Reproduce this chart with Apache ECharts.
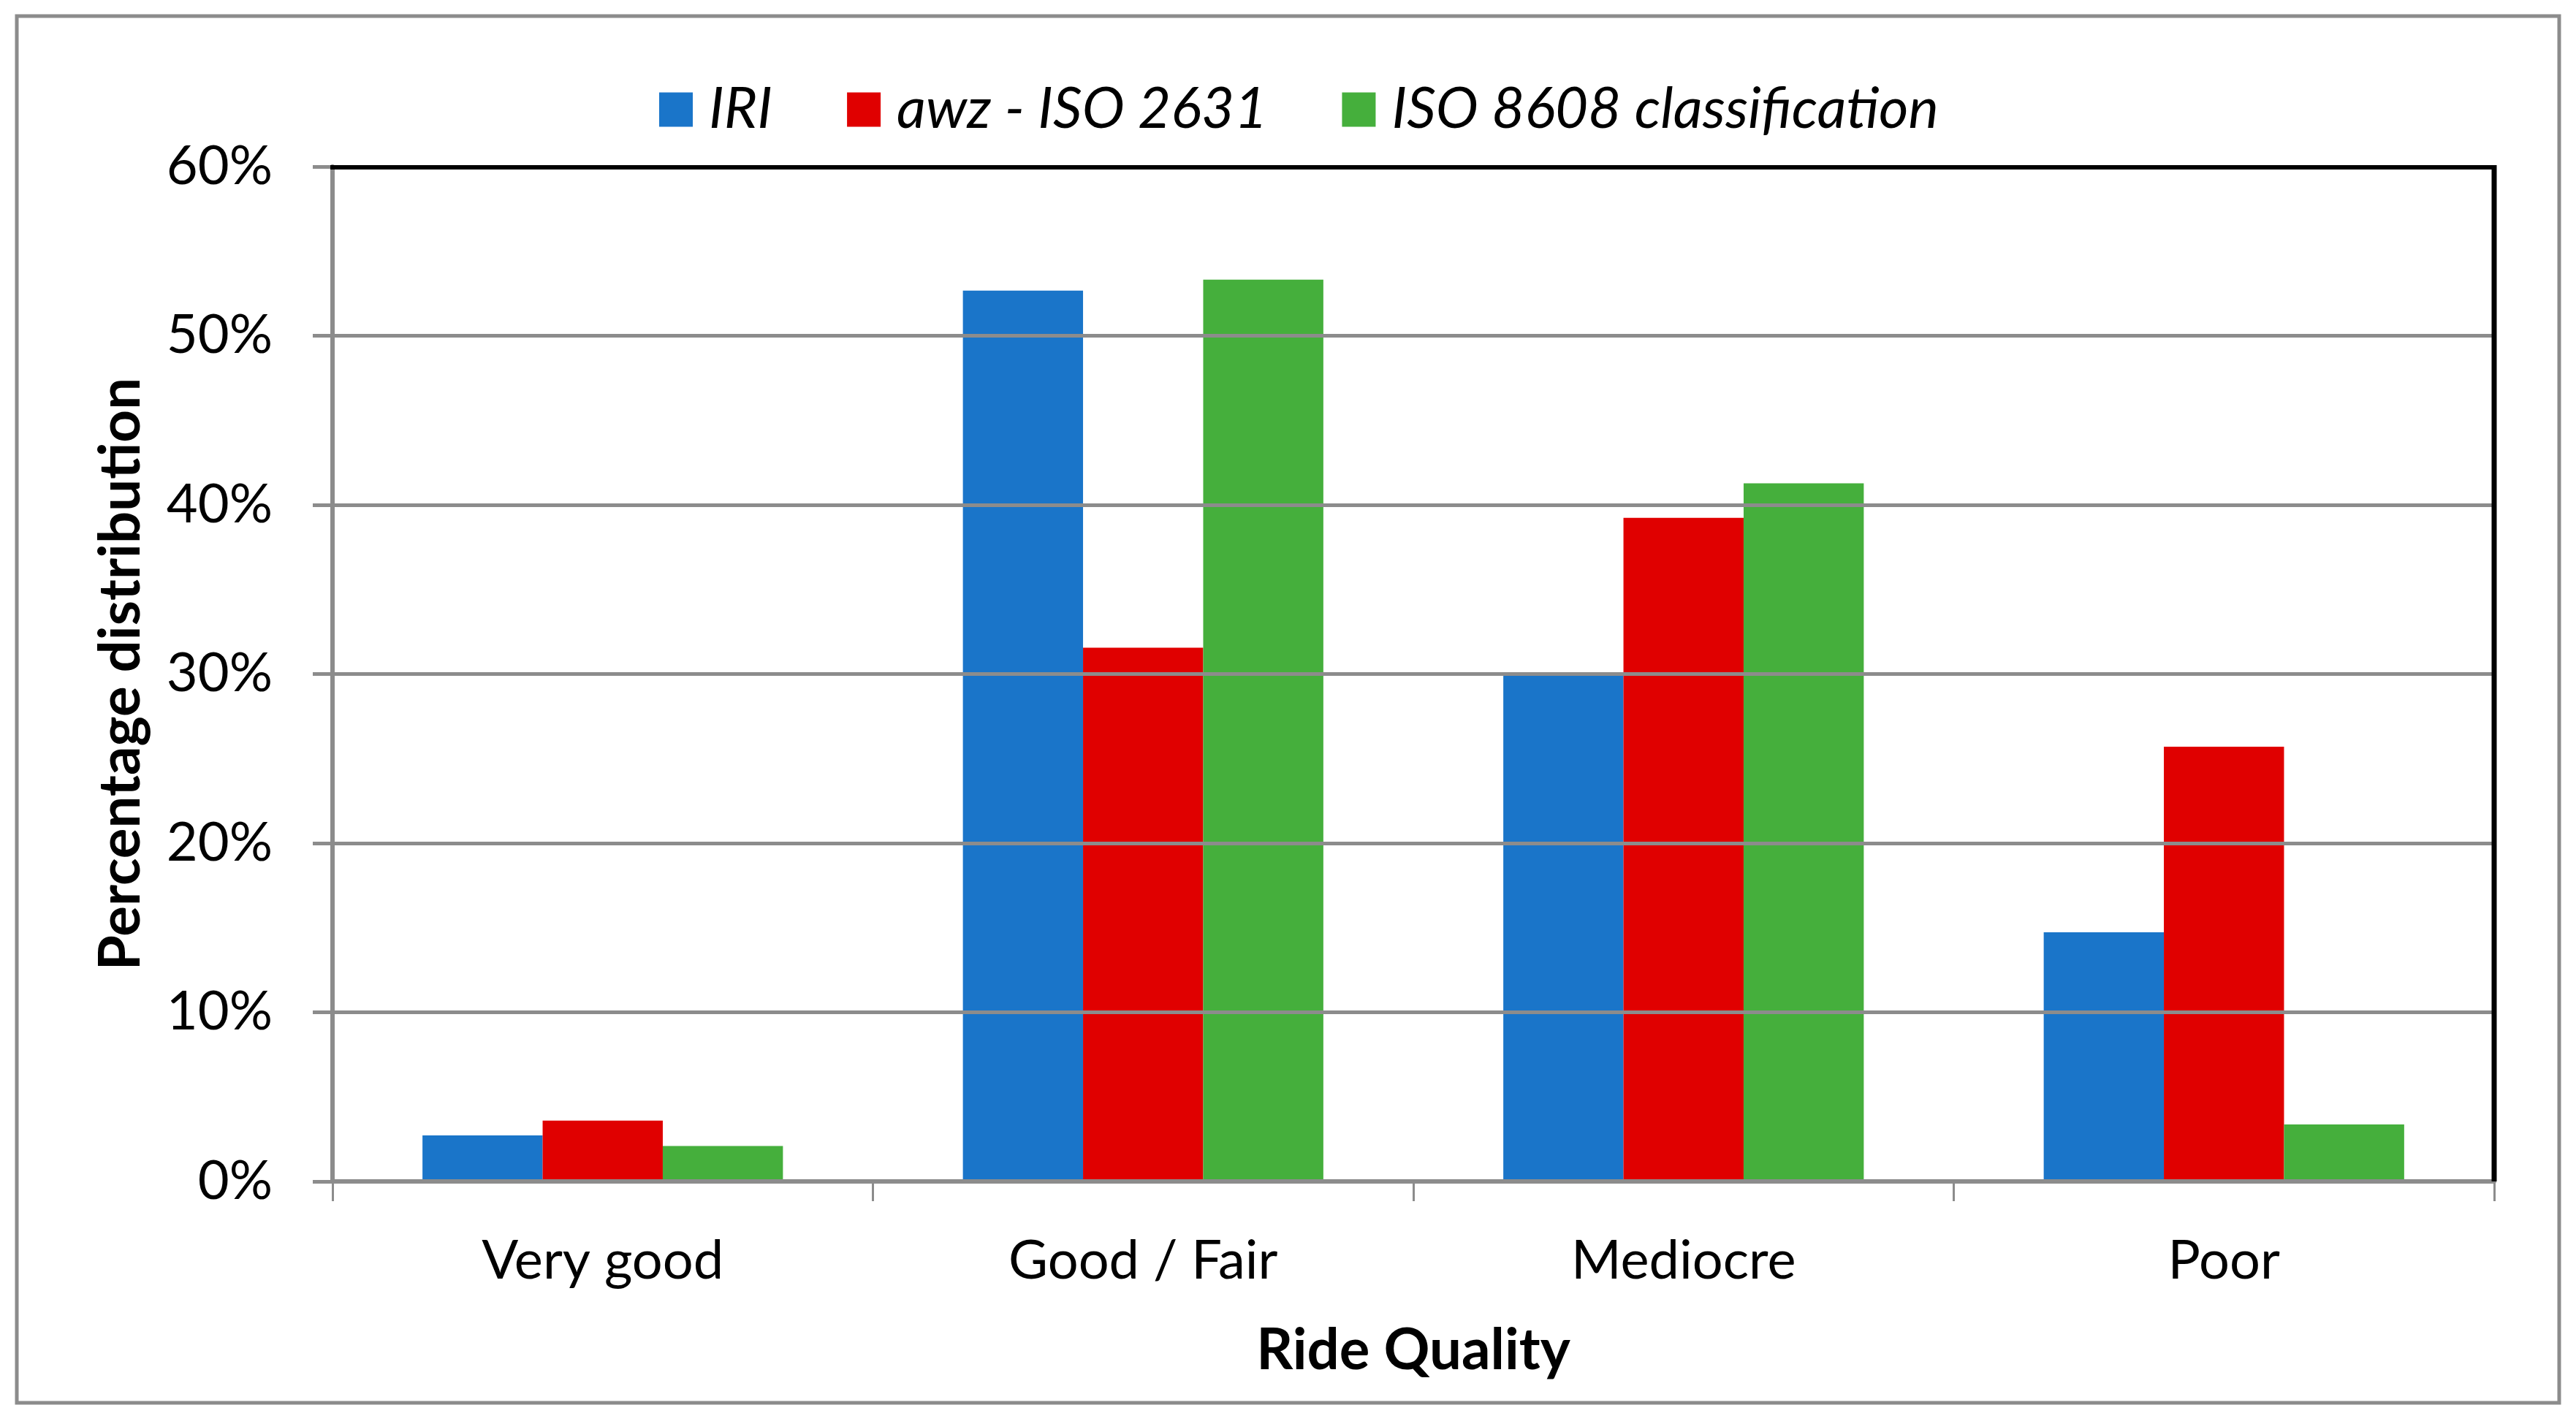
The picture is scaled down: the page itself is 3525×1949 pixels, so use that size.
<!DOCTYPE html>
<html>
<head>
<meta charset="utf-8">
<script src="https://cdn.jsdelivr.net/npm/echarts@6/dist/echarts.min.js"></script>
<style>html,body{margin:0;padding:0;background:#fff;}#c{width:3525px;height:1949px;}</style>
</head>
<body>
<div id="c"></div>
<script>
const categories = ['Very good', 'Good / Fair', 'Mediocre', 'Poor'];
const seriesNames = ['IRI', 'awz - ISO 2631', 'ISO 8608 classification'];
const iriValues = [2.72, 52.67, 29.9, 14.73];
const awzValues = [3.6, 31.55, 39.23, 25.7];
const isoValues = [2.1, 53.32, 41.27, 3.37];
const yTicks = [0, 10, 20, 30, 40, 50, 60];
const colors = ['#1A75C9', '#E00000', '#45AF3C'];

const FONT = 'Lato';
const chart = echarts.init(document.getElementById('c'));
const mk = (name, data, color) => ({
  name, type: 'bar', data, barGap: '0%', barCategoryGap: '33.3%',
  itemStyle: { color }
});
chart.setOption({
  animation: false,
  backgroundColor: '#fff',
  textStyle: { fontFamily: FONT, color: '#000' },
  graphic: [
    { type: 'rect', shape: { x: 23, y: 22, width: 3479, height: 1898 },
      style: { fill: 'none', stroke: '#8c8c8c', lineWidth: 5 }, z: -1 },
    { type: 'line', shape: { x1: 452, y1: 229, x2: 3416, y2: 229 },
      style: { stroke: '#000', lineWidth: 6 }, z: 100 },
    { type: 'line', shape: { x1: 3413, y1: 226, x2: 3413, y2: 1617 },
      style: { stroke: '#000', lineWidth: 7 }, z: 100 }
  ],
  legend: {
    left: 897, top: 106, itemWidth: 46, itemHeight: 47, itemGap: 102,
    icon: 'rect',
    data: seriesNames,
    textStyle: { fontFamily: FONT, fontStyle: 'italic', fontSize: 78, color: '#000', lineHeight: 50, padding: [0, 0, 0, 17] }
  },
  grid: { left: 455, right: 112, top: 228, bottom: 332, show: true, borderColor: '#000', borderWidth: 2, backgroundColor: 'transparent' },
  xAxis: {
    type: 'category', data: categories,
    name: 'Ride Quality', nameLocation: 'middle', nameGap: 193,
    nameTextStyle: { fontFamily: FONT, fontWeight: 'bold', fontSize: 78, color: '#000' },
    axisLine: { show: true, lineStyle: { color: '#8c8c8c', width: 6 } },
    axisTick: { show: true, length: 27, lineStyle: { color: '#8c8c8c', width: 3 } },
    axisLabel: { fontFamily: FONT, fontSize: 74, color: '#000', margin: 72 },
    z: 5
  },
  yAxis: {
    type: 'value', min: 0, max: 60, interval: 10,
    name: 'Percentage distribution', nameLocation: 'middle', nameGap: 250,
    nameTextStyle: { fontFamily: FONT, fontWeight: 'bold', fontSize: 78, color: '#000' },
    axisLine: { show: true, lineStyle: { color: '#8c8c8c', width: 6 } },
    axisTick: { show: true, length: 27, lineStyle: { color: '#8c8c8c', width: 5 } },
    axisLabel: { fontFamily: FONT, fontSize: 74, color: '#000', margin: 82,
      formatter: v => (yTicks.includes(v) ? v + '%' : '') },
    splitLine: { show: true, lineStyle: { color: '#8c8c8c', width: 5 } },
    z: 5
  },
  series: [
    mk(seriesNames[0], iriValues, colors[0]),
    mk(seriesNames[1], awzValues, colors[1]),
    mk(seriesNames[2], isoValues, colors[2])
  ]
});
</script>
</body>
</html>
